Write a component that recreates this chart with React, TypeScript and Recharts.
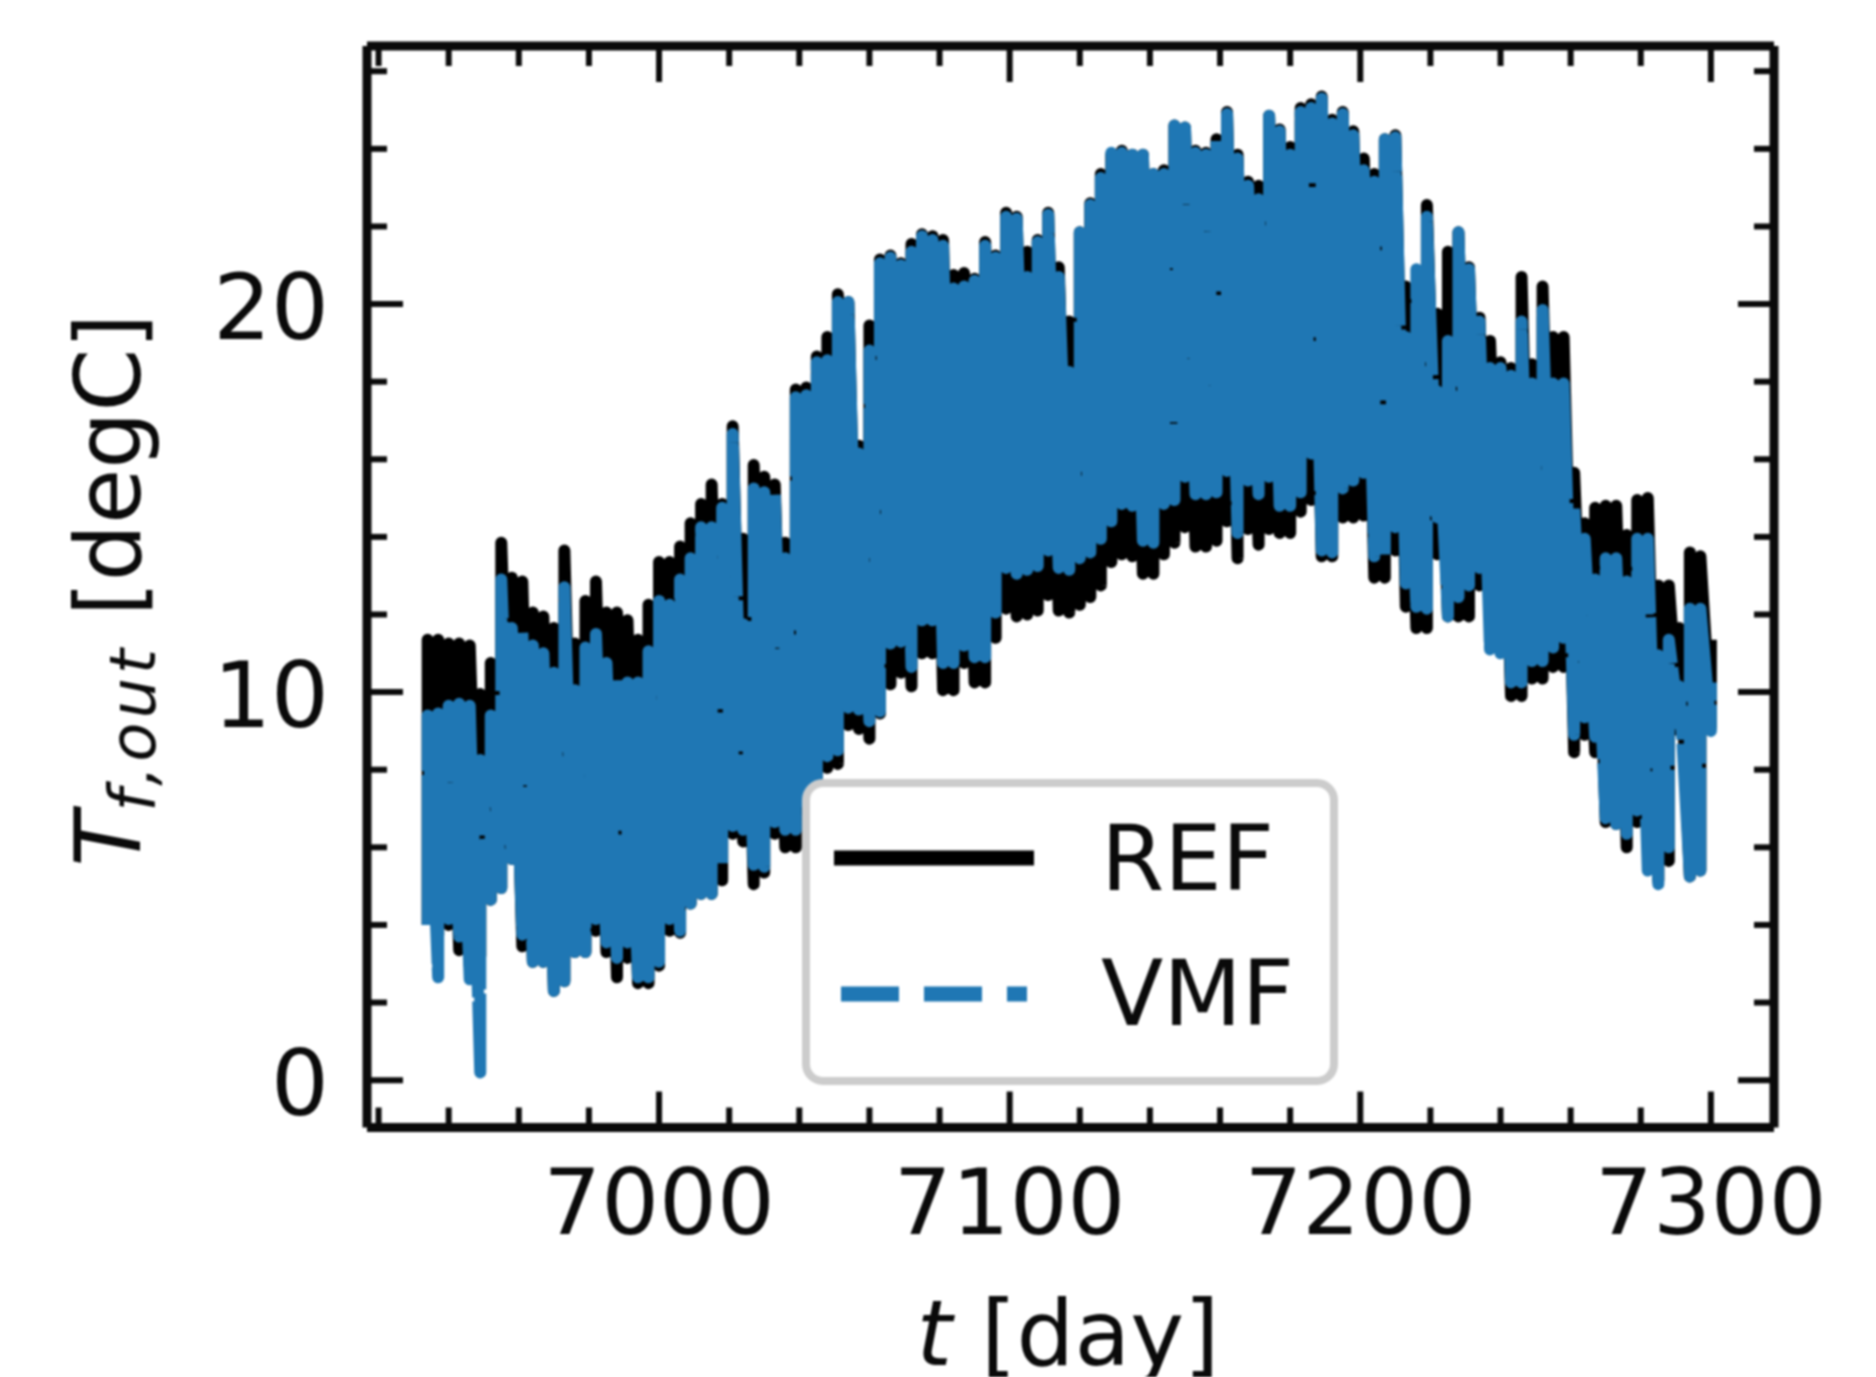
import { ComposedChart, Line, XAxis, YAxis, Legend, Label } from 'recharts'

// sampled every third day, each day gets its lower and upper swing of the oscillation
const days = [
  6934, 6937, 6940, 6943, 6946, 6949, 6952, 6955, 6958, 6961,
  6964, 6967, 6970, 6973, 6976, 6979, 6982, 6985, 6988, 6991,
  6994, 6997, 7000, 7003, 7006, 7009, 7012, 7015, 7018, 7021,
  7024, 7027, 7030, 7033, 7036, 7039, 7042, 7045, 7048, 7051,
  7054, 7057, 7060, 7063, 7066, 7069, 7072, 7075, 7078, 7081,
  7084, 7087, 7090, 7093, 7096, 7099, 7102, 7105, 7108, 7111,
  7114, 7117, 7120, 7123, 7126, 7129, 7132, 7135, 7138, 7141,
  7144, 7147, 7150, 7153, 7156, 7159, 7162, 7165, 7168, 7171,
  7174, 7177, 7180, 7183, 7186, 7189, 7192, 7195, 7198, 7201,
  7204, 7207, 7210, 7213, 7216, 7219, 7222, 7225, 7228, 7231,
  7234, 7237, 7240, 7243, 7246, 7249, 7252, 7255, 7258, 7261,
  7264, 7267, 7270, 7273, 7276, 7279, 7282, 7285, 7288, 7291,
  7294, 7297, 7300,
]

const refHigh = [
  11.35, 11.35, 11.25, 11.25, 11.2, 9.95, 10.75, 13.85, 12.95, 12.85,
  12.05, 11.95, 11.65, 13.65, 11.25, 12.35, 12.85, 12.05, 12.05, 11.85,
  11.35, 12.25, 13.35, 13.35, 13.75, 14.35, 14.85, 15.35, 14.85, 16.85,
  13.95, 15.85, 15.55, 15.35, 13.85, 17.8, 17.85, 18.65, 19.15, 20.25,
  20.05, 16.35, 19.45, 21.15, 21.25, 21.05, 21.55, 21.8, 21.75, 21.65,
  20.75, 20.8, 20.65, 21.6, 21.25, 22.35, 22.25, 21.35, 21.65, 22.35,
  20.95, 19.55, 21.85, 22.6, 23.35, 23.85, 23.95, 23.85, 23.85, 23.35,
  23.45, 24.6, 24.55, 23.95, 23.9, 24.25, 24.95, 23.85, 23.15, 23.05,
  24.85, 24.5, 24.05, 25.05, 25.15, 25.35, 24.75, 24.95, 24.45, 23.75,
  23.35, 24.25, 24.35, 20.45, 20.35, 22.55, 19.75, 21.35, 21.85, 20.95,
  19.65, 19.05, 18.5, 18.35, 20.7, 18.45, 20.45, 19.15, 19.15, 15.65,
  14.35, 14.75, 14.8, 14.8, 14.05, 14.95, 15.0, 12.75, 12.75, 11.65,
  13.6, 13.5, 11.35,
]

const refLow = [
  4.0, 3.75, 4.0, 3.35, 2.95, 3.2, 4.65, 4.95, 5.7, 3.45,
  3.05, 3.05, 2.3, 2.55, 3.3, 3.3, 3.85, 3.3, 2.65, 3.15,
  2.5, 2.5, 2.95, 3.85, 3.8, 4.55, 4.8, 4.8, 5.15, 6.35,
  6.15, 5.05, 5.35, 6.35, 6.0, 6.0, 6.95, 7.45, 8.05, 8.15,
  9.15, 9.05, 8.8, 9.45, 10.2, 10.5, 10.15, 11.0, 11.0, 10.05,
  10.05, 10.75, 10.25, 10.25, 11.4, 12.15, 11.95, 12.0, 12.1, 12.5,
  12.1, 12.05, 12.25, 12.45, 12.75, 13.35, 13.55, 13.5, 13.05, 13.05,
  13.55, 13.85, 14.25, 13.75, 13.75, 13.9, 14.4, 13.45, 14.2, 13.8,
  14.2, 14.1, 14.1, 14.65, 14.95, 13.5, 13.5, 14.5, 14.5, 14.55,
  12.95, 12.95, 13.65, 12.2, 11.65, 11.65, 13.55, 11.95, 11.95, 11.95,
  12.75, 12.05, 12.05, 9.9, 9.9, 10.35, 10.35, 10.65, 10.65, 8.45,
  8.9, 8.45, 6.65, 6.6, 6.0, 6.65, 6.75, 5.15, 5.65, 9.0,
  5.25, 5.4, 9.1,
]

const vmfHigh = [
  9.4, 9.45, 9.65, 9.7, 9.65, 8.25, 9.4, 12.9, 11.65, 11.55,
  11.2, 11.0, 10.5, 12.7, 10.05, 11.15, 11.5, 10.75, 10.35, 10.25,
  10.25, 11.05, 12.35, 12.25, 12.9, 13.45, 14.25, 14.25, 14.75, 16.65,
  11.75, 15.25, 15.15, 15.1, 13.45, 17.6, 17.65, 18.5, 18.55, 20.05,
  20.05, 16.15, 18.8, 21.05, 21.2, 21.0, 21.35, 21.75, 21.65, 21.5,
  20.4, 20.45, 20.6, 21.5, 21.2, 22.25, 22.2, 20.7, 21.6, 22.3,
  20.7, 18.25, 21.85, 22.55, 23.25, 23.9, 23.9, 23.85, 23.85, 23.35,
  23.35, 24.6, 24.55, 23.9, 23.85, 24.25, 24.9, 23.75, 23.05, 22.7,
  24.85, 24.45, 23.85, 24.95, 25.05, 25.3, 24.65, 24.9, 24.35, 23.45,
  23.15, 24.25, 24.3, 19.15, 20.9, 22.25, 17.75, 19.05, 21.85, 20.9,
  19.55, 18.35, 18.35, 18.15, 19.55, 17.95, 19.85, 17.95, 17.95, 14.75,
  13.95, 12.9, 13.45, 13.45, 12.85, 13.95, 13.95, 10.95, 11.35, 10.15,
  12.15, 12.15, 10.25,
]

const vmfLow = [
  4.0, 2.65, 4.15, 3.7, 2.6, 0.2, 4.65, 4.95, 5.7, 3.75,
  3.05, 3.05, 2.3, 2.55, 3.3, 3.3, 4.15, 3.55, 3.15, 3.55,
  2.65, 2.65, 3.05, 4.15, 3.85, 4.55, 4.8, 4.8, 5.55, 6.55,
  6.45, 5.55, 5.5, 6.65, 6.45, 6.45, 7.15, 7.65, 8.35, 8.5,
  9.6, 9.55, 9.25, 9.5, 11.25, 11.3, 10.65, 11.85, 11.85, 10.75,
  10.75, 11.2, 10.9, 10.9, 12.05, 13.2, 13.05, 13.15, 13.25, 13.65,
  13.2, 13.15, 13.45, 13.6, 13.95, 14.4, 14.85, 14.8, 13.9, 13.85,
  14.85, 14.95, 15.55, 15.1, 15.1, 15.15, 15.7, 14.1, 15.45, 15.1,
  15.55, 14.8, 14.8, 15.15, 16.15, 13.65, 13.6, 15.25, 15.45, 15.65,
  13.5, 13.5, 14.25, 12.8, 12.2, 12.15, 14.5, 11.95, 12.45, 12.75,
  13.2, 11.1, 11.0, 10.25, 10.25, 10.8, 10.8, 11.15, 11.4, 8.9,
  9.35, 8.85, 6.75, 6.6, 6.35, 6.95, 5.4, 5.05, 6.0, 9.15,
  5.25, 5.4, 9.0,
]

const xTicks = [
  6920, 6940, 6960, 6980, 7000, 7020, 7040, 7060, 7080, 7100, 7120, 7140, 7160, 7180,
  7200, 7220, 7240, 7260, 7280, 7300,
]
const xMajor = [7000, 7100, 7200, 7300]
const yTicks = [0, 2, 4, 6, 8, 10, 12, 14, 16, 18, 20, 22, 24, 26]
const yMajor = [0, 10, 20]

const refName = 'REF'
const vmfName = 'VMF'

const rows = days.flatMap((t, i) => [
  { t, ref: refLow[i], vmf: vmfLow[i] },
  { t, ref: refHigh[i], vmf: vmfHigh[i] },
])

const FONT = '"DejaVu Sans", sans-serif'
const FONT_SIZE = 91
const BLUE = '#1f77b4'
const INK = '#0a0a0a'
const MAJOR_LEN = 36
const MINOR_LEN = 20
const TICK_W = 6

function BottomTick({ x, y, payload }: any) {
  const major = xMajor.includes(payload.value)
  return (
    <g>
      <line x1={x} x2={x} y1={y} y2={y - (major ? MAJOR_LEN : MINOR_LEN)} stroke={INK} strokeWidth={TICK_W} />
      {major && (
        <text x={x} y={y + 106} textAnchor="middle" fontFamily={FONT} fontSize={FONT_SIZE} fill={INK}>
          {payload.value}
        </text>
      )}
    </g>
  )
}

function TopTick({ x, y, payload }: any) {
  const major = xMajor.includes(payload.value)
  return <line x1={x} x2={x} y1={y} y2={y + (major ? MAJOR_LEN : MINOR_LEN)} stroke={INK} strokeWidth={TICK_W} />
}

function LeftTick({ x, y, payload }: any) {
  const major = yMajor.includes(payload.value)
  return (
    <g>
      <line x1={x} x2={x + (major ? MAJOR_LEN : MINOR_LEN)} y1={y} y2={y} stroke={INK} strokeWidth={TICK_W} />
      {major && (
        <text x={x - 38} y={y + 35} textAnchor="end" fontFamily={FONT} fontSize={FONT_SIZE} fill={INK}>
          {payload.value}
        </text>
      )}
    </g>
  )
}

function RightTick({ x, y, payload }: any) {
  const major = yMajor.includes(payload.value)
  return <line x1={x} x2={x - (major ? MAJOR_LEN : MINOR_LEN)} y1={y} y2={y} stroke={INK} strokeWidth={TICK_W} />
}

function XTitle() {
  return (
    <text x={1068} y={1365} textAnchor="middle" fontFamily={FONT} fontSize={FONT_SIZE} fill={INK}>
      <tspan fontStyle="italic">t</tspan>
      <tspan> [day]</tspan>
    </text>
  )
}

function YTitle() {
  return (
    <text
      transform="translate(140 590) rotate(-90)"
      textAnchor="middle"
      fontFamily={FONT}
      fontSize={90}
      fill={INK}
    >
      <tspan fontStyle="italic">T</tspan>
      <tspan fontStyle="italic" fontSize={64} letterSpacing={4} dy={15}>f,out</tspan>
      <tspan dy={-15}> [degC]</tspan>
    </text>
  )
}

function LegendBox() {
  return (
    <svg width={550} height={320} style={{ display: 'block' }}>
      <rect x={5} y={5} width={528} height={298} rx={17} fill="#fff" stroke="#cccccc" strokeWidth={8} />
      <line x1={33} x2={233} y1={80} y2={80} stroke="#000" strokeWidth={15} />
      <text x={300} y={112} fontFamily={FONT} fontSize={FONT_SIZE} fill={INK}>{refName}</text>
      <line x1={40} x2={226} y1={216} y2={216} stroke={BLUE} strokeWidth={15} strokeDasharray="58 25" />
      <text x={300} y={247} fontFamily={FONT} fontSize={FONT_SIZE} fill={INK}>{vmfName}</text>
    </svg>
  )
}

export default function App() {
  const xDomain: [number, number] = [6916.7, 7318]
  const yDomain: [number, number] = [-1.22, 26.65]
  const spine = { stroke: INK, strokeWidth: 9 }
  return (
    <div style={{ position: 'absolute', left: 0, top: 0, width: 1876, height: 1377, background: '#fff', filter: 'blur(1px)' }}>
      <ComposedChart
        width={1876}
        height={1377}
        data={rows}
        margin={{ top: 45, right: 101, bottom: 248.5, left: 366 }}
      >
        <XAxis
          xAxisId="bottom"
          dataKey="t"
          type="number"
          orientation="bottom"
          domain={xDomain}
          allowDataOverflow
          ticks={xTicks}
          interval={0}
          height={1}
          tickSize={0}
          tickMargin={0}
          tickLine={false}
          axisLine={spine}
          tick={BottomTick}
        >
          <Label content={XTitle} />
        </XAxis>
        <XAxis
          xAxisId="top"
          dataKey="t"
          type="number"
          orientation="top"
          domain={xDomain}
          allowDataOverflow
          ticks={xTicks}
          interval={0}
          height={1}
          tickSize={0}
          tickMargin={0}
          tickLine={false}
          axisLine={spine}
          tick={TopTick}
        />
        <YAxis
          yAxisId="left"
          type="number"
          orientation="left"
          domain={yDomain}
          allowDataOverflow
          ticks={yTicks}
          interval={0}
          width={1}
          tickSize={0}
          tickMargin={0}
          tickLine={false}
          axisLine={spine}
          tick={LeftTick}
        >
          <Label content={YTitle} />
        </YAxis>
        <YAxis
          yAxisId="right"
          type="number"
          orientation="right"
          domain={yDomain}
          allowDataOverflow
          ticks={yTicks}
          interval={0}
          width={1}
          tickSize={0}
          tickMargin={0}
          tickLine={false}
          axisLine={spine}
          tick={RightTick}
        />
        <Line
          xAxisId="bottom"
          yAxisId="left"
          dataKey="ref"
          name={refName}
          stroke="#000"
          strokeWidth={12}
          strokeLinejoin="round"
          dot={false}
          isAnimationActive={false}
        />
        <Line
          xAxisId="bottom"
          yAxisId="left"
          dataKey="vmf"
          name={vmfName}
          stroke={BLUE}
          strokeWidth={12}
          strokeLinejoin="round"
          strokeDasharray="150 4"
          dot={false}
          isAnimationActive={false}
        />
        <Legend
          layout="vertical"
          align="center"
          verticalAlign="middle"
          content={LegendBox}
          wrapperStyle={{ left: 801, top: 778, width: 550, height: 320, bottom: 'auto', right: 'auto' }}
        />
      </ComposedChart>
    </div>
  )
}
